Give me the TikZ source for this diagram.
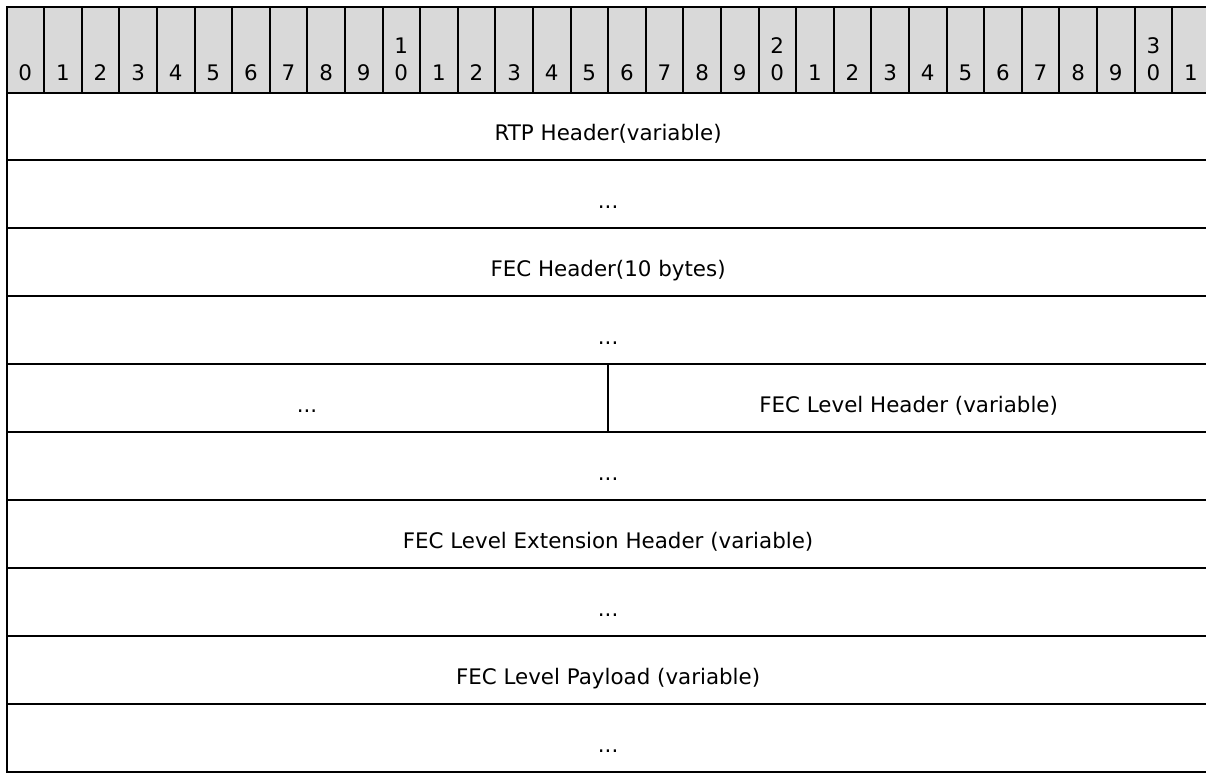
\documentclass[tikz,border=0pt]{standalone}
\usepackage{xcolor}
\usepackage{tikz}
\usepackage{fontspec}
\setmainfont{DejaVu Sans}
\definecolor{hdrgray}{HTML}{D9D9D9}

\begin{document}
\begin{tikzpicture}[x=0.5pt,y=-0.5pt,line width=1pt]
	\newcommand\xl{6.5}
	\newcommand\bw{37.6}
	\newcommand\xr{1209.7}
	\newcommand\xm{607.6}
	\newcommand\xc{608.1}
	\newcommand\yt{6.5}
	\newcommand\yh{92.5}
	\newcommand\rh{67.95}
	\newcommand\dy{14}
	\tikzset{lbl/.style={anchor=base,inner sep=0pt,font=\fontsize{10.7}{13.5}\selectfont}}

	\useasboundingbox (0,0) rectangle (1206,773);

	% bit ruler
	\foreach \i in {0,...,31}{
		\pgfmathtruncatemacro\bitu{mod(\i,10)}
		\pgfmathtruncatemacro\bitt{\i/10}
		\draw[fill=hdrgray] (\xl+\i*\bw,\yt) rectangle (\xl+\i*\bw+\bw,\yh);
		\node[lbl] (bit\i) at (\xl+\i*\bw+\bw/2,80) {\bitu};
		\ifnum\bitu=0 \ifnum\i>0
			\node[lbl] (ten\i) at (\xl+\i*\bw+\bw/2,53) {\bitt};
		\fi\fi
	}

	\draw (\xl,\yh) rectangle (\xr,\yh+\rh);
	\node[lbl] (rtp) at (\xc,\yh+0.5*\rh+\dy) {RTP Header(variable)};

	\draw (\xl,\yh+\rh) rectangle (\xr,\yh+2*\rh);
	\node[lbl] (rtpmore) at (\xc,\yh+1.5*\rh+\dy) {...};

	\draw (\xl,\yh+2*\rh) rectangle (\xr,\yh+3*\rh);
	\node[lbl] (fec) at (\xc,\yh+2.5*\rh+\dy) {FEC Header(10 bytes)};

	\draw (\xl,\yh+3*\rh) rectangle (\xr,\yh+4*\rh);
	\node[lbl] (fecmore) at (\xc,\yh+3.5*\rh+\dy) {...};

	\draw (\xl,\yh+4*\rh) rectangle (\xm,\yh+5*\rh);
	\node[lbl] (fecend) at ({(\xl+\xm)/2},\yh+4.5*\rh+\dy) {...};
	\draw (\xm,\yh+4*\rh) rectangle (\xr,\yh+5*\rh);
	\node[lbl] (lvlhdr) at ({(\xm+\xr)/2},\yh+4.5*\rh+\dy) {FEC Level Header (variable)};

	\draw (\xl,\yh+5*\rh) rectangle (\xr,\yh+6*\rh);
	\node[lbl] (lvlhdrmore) at (\xc,\yh+5.5*\rh+\dy) {...};

	\draw (\xl,\yh+6*\rh) rectangle (\xr,\yh+7*\rh);
	\node[lbl] (lvlext) at (\xc,\yh+6.5*\rh+\dy) {FEC Level Extension Header (variable)};

	\draw (\xl,\yh+7*\rh) rectangle (\xr,\yh+8*\rh);
	\node[lbl] (lvlextmore) at (\xc,\yh+7.5*\rh+\dy) {...};

	\draw (\xl,\yh+8*\rh) rectangle (\xr,\yh+9*\rh);
	\node[lbl] (payload) at (\xc,\yh+8.5*\rh+\dy) {FEC Level Payload (variable)};

	\draw (\xl,\yh+9*\rh) rectangle (\xr,\yh+10*\rh);
	\node[lbl] (payloadmore) at (\xc,\yh+9.5*\rh+\dy) {...};
\end{tikzpicture}
\end{document}
